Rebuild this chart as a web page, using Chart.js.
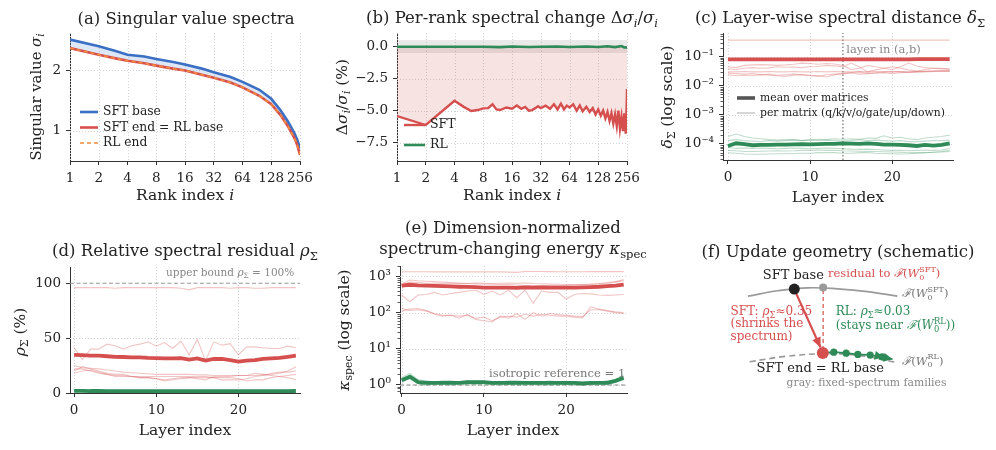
<!DOCTYPE html>
<html><head><meta charset="utf-8">
<script src="https://cdn.jsdelivr.net/npm/chart.js@4.4.1/dist/chart.umd.min.js"></script>
<style>
body{margin:0;background:#fff}
#wrap{position:relative;width:996px;height:450px;overflow:hidden;background:#fff}
canvas{position:absolute}
</style></head><body><div id="wrap">
<canvas id="pa" width="330" height="215" style="left:0;top:0"></canvas>
<canvas id="pb" width="330" height="215" style="left:330px;top:0"></canvas>
<canvas id="pc" width="336" height="215" style="left:660px;top:0"></canvas>
<canvas id="pd" width="330" height="235" style="left:0;top:215px"></canvas>
<canvas id="pe" width="330" height="235" style="left:330px;top:215px"></canvas>
<canvas id="pf" width="336" height="235" style="left:660px;top:215px"></canvas>
</div>
<script>
const SERIF = '"DejaVu Serif", serif'
const RED = '#d64f4f', GREEN = '#2e8b57', BLUE = '#3a6fc4', ORANGE = '#f28c3b', INK = '#222'
const RED_T = 'rgba(214,79,79,0.33)', GREEN_T = 'rgba(46,139,87,0.3)'
const TITLE = 16.5, LABEL = 15.5, TICK = 13.5

// (a) singular value spectra
const aRanks   = [1, 2, 3, 4, 6, 8, 12, 16, 24, 32, 48, 64, 96, 128, 160, 192, 224, 240, 256]
const aSftBase = [2.51, 2.40, 2.32, 2.26, 2.23, 2.19, 2.14, 2.10, 2.03, 1.97, 1.89, 1.81, 1.68, 1.53, 1.34, 1.15, 0.96, 0.85, 0.71]
const aSftEnd  = [2.37, 2.26, 2.20, 2.16, 2.12, 2.08, 2.03, 2.00, 1.93, 1.88, 1.80, 1.72, 1.58, 1.44, 1.26, 1.07, 0.88, 0.76, 0.60]
const aRlEnd   = [2.37, 2.26, 2.20, 2.16, 2.12, 2.08, 2.03, 2.00, 1.93, 1.88, 1.80, 1.72, 1.58, 1.44, 1.26, 1.07, 0.88, 0.76, 0.61]

// (b) per-rank change, %
const bRanks = [1, 2, 4, 5, 6, 7, 8, 9, 10, 11, 12, 14, 16, 18, 20, 22, 24, 26, 28, 30, 32, 36, 40, 44, 48, 52, 56, 60, 64, 70, 76, 82, 88, 96,
  104, 112, 120, 128, 136, 144, 152, 160, 168, 176, 184, 192, 200, 208, 216, 224, 232, 240, 248, 252, 256]
const bSft = [-5.42, -6.12, -4.22, -4.7, -5.02, -4.95, -4.82, -4.8, -4.5, -4.9, -4.95, -4.75, -4.85, -4.6, -4.85, -4.7, -5.0, -4.95, -4.8, -4.65,
  -4.8, -4.6, -4.85, -4.5, -4.9, -4.45, -4.9, -4.6, -4.75, -4.5, -5.0, -4.6, -5.05, -4.7, -5.1, -4.8, -5.3, -4.9, -5.4, -5.0, -5.6, -5.1,
  -5.8, -5.2, -6.0, -5.3, -6.2, -5.0, -6.4, -5.5, -6.6, -5.2, -6.8, -5.6, -3.3]
const bRlRanks = [1, 2, 4, 8, 12, 16, 24, 32, 48, 64, 96, 128, 160, 192, 224, 240, 256]
const bRl = [0, 0, 0, 0, -0.03, 0.01, -0.02, 0, 0.02, -0.02, 0.01, -0.02, 0.03, -0.03, 0.05, -0.06, -0.05]
const bBand = [0.52, -0.5]

const rankTicks = [1, 2, 4, 8, 16, 32, 64, 128, 256]
const rankLabels = ['1', '2', '4', '8', '16', '32', '64', '128', '256']

// layer-wise panels
const layers = [0, 1, 2, 3, 4, 5, 6, 7, 8, 9, 10, 11, 12, 13, 14, 15, 16, 17, 18, 19, 20, 21, 22, 23, 24, 25, 26, 27]

// (c) spectral distance
const cRedMean = [0.080, 0.081, 0.080, 0.080, 0.080, 0.080, 0.080, 0.080, 0.080, 0.080, 0.080, 0.080, 0.080, 0.080, 0.080, 0.080, 0.080, 0.080, 0.080, 0.080, 0.080, 0.080, 0.081, 0.082, 0.082, 0.082, 0.082, 0.082]
const cRedQ = [0.37, 0.37, 0.37, 0.37, 0.37, 0.37, 0.37, 0.37, 0.37, 0.37, 0.37, 0.37, 0.37, 0.37, 0.37, 0.37, 0.37, 0.37, 0.37, 0.37, 0.37, 0.37, 0.37, 0.37, 0.37, 0.37, 0.37, 0.37]
const cRedK = [0.045, 0.042, 0.050, 0.052, 0.053, 0.052, 0.050, 0.052, 0.055, 0.060, 0.058, 0.055, 0.058, 0.056, 0.050, 0.036, 0.040, 0.050, 0.045, 0.040, 0.036, 0.045, 0.060, 0.048, 0.042, 0.040, 0.038, 0.036]
const cRedV = [0.038, 0.036, 0.040, 0.042, 0.040, 0.041, 0.045, 0.043, 0.044, 0.042, 0.045, 0.046, 0.050, 0.048, 0.045, 0.060, 0.045, 0.030, 0.035, 0.040, 0.045, 0.040, 0.035, 0.032, 0.036, 0.040, 0.040, 0.038]
const cRedO = [0.030, 0.030, 0.031, 0.030, 0.030, 0.031, 0.030, 0.030, 0.031, 0.030, 0.030, 0.031, 0.030, 0.031, 0.030, 0.030, 0.031, 0.030, 0.031, 0.030, 0.030, 0.031, 0.030, 0.031, 0.032, 0.032, 0.033, 0.033]
const cRedG = [0.027, 0.026, 0.025, 0.026, 0.024, 0.025, 0.023, 0.024, 0.025, 0.024, 0.023, 0.022, 0.020, 0.024, 0.026, 0.028, 0.025, 0.026, 0.027, 0.028, 0.026, 0.028, 0.029, 0.030, 0.030, 0.031, 0.031, 0.031]
const cRedU = [0.024, 0.022, 0.023, 0.022, 0.024, 0.023, 0.022, 0.021, 0.023, 0.024, 0.022, 0.021, 0.024, 0.025, 0.026, 0.028, 0.030, 0.027, 0.028, 0.030, 0.031, 0.030, 0.029, 0.030, 0.031, 0.032, 0.032, 0.032]
// green values in units of 1e-4
const cGreenMean = [0.85, 1.05, 0.98, 0.9, 0.92, 0.93, 0.95, 0.95, 0.97, 0.98, 0.97, 0.98, 1.0, 1.0, 1.05, 1.02, 1.0, 1.05, 1.0, 0.95, 0.95, 0.92, 0.9, 0.85, 0.92, 0.88, 0.93, 1.05]
const cGreenQ = [1.8, 2.2, 1.8, 1.6, 1.5, 1.4, 1.35, 1.4, 1.4, 1.3, 1.35, 1.45, 1.4, 1.5, 1.45, 1.5, 1.45, 1.6, 1.55, 1.9, 1.6, 1.7, 1.5, 1.4, 1.6, 1.7, 1.8, 2.0]
const cGreenK = [1.3, 1.4, 1.3, 1.25, 1.2, 1.3, 1.25, 1.3, 1.35, 1.3, 1.4, 1.3, 1.35, 1.3, 1.25, 1.3, 1.4, 1.3, 1.35, 1.3, 1.25, 1.3, 1.2, 1.2, 1.25, 1.3, 1.3, 1.35]
const cGreenV = [0.75, 0.7, 0.72, 0.7, 0.72, 0.7, 0.68, 0.7, 0.72, 0.7, 0.68, 0.7, 0.72, 0.7, 0.68, 0.66, 0.65, 0.66, 0.64, 0.62, 0.6, 0.6, 0.58, 0.6, 0.62, 0.6, 0.62, 0.7]
const cGreenO = [0.6, 0.58, 0.55, 0.55, 0.56, 0.57, 0.58, 0.57, 0.58, 0.6, 0.6, 0.62, 0.6, 0.6, 0.58, 0.57, 0.56, 0.55, 0.55, 0.54, 0.53, 0.52, 0.5, 0.5, 0.5, 0.52, 0.55, 0.6]
const cGreenG = [0.5, 0.48, 0.45, 0.44, 0.44, 0.45, 0.46, 0.46, 0.47, 0.48, 0.48, 0.5, 0.5, 0.5, 0.48, 0.48, 0.5, 0.5, 0.48, 0.47, 0.46, 0.45, 0.46, 0.48, 0.5, 0.52, 0.53, 0.55]
const cMarkLayer = 14

// (d) relative residual, %
const dRedMean = [34.8, 34.5, 34, 34, 33.5, 33, 32.8, 32.5, 32.5, 32, 31.8, 31.5, 31.5, 31.8, 30.5, 31.5, 29.5, 31, 31, 30, 28.6, 29.5, 30, 31, 31.5, 32, 33, 34]
const dRed1 = [96, 96, 96, 96, 96, 95.5, 96, 96, 96, 96, 96, 96, 96, 95.5, 94, 96, 96, 96, 96, 95.5, 96, 96, 95.5, 95.5, 96, 96, 96, 96]
const dRed2 = [41.5, 30.5, 40, 40, 44.5, 43, 40, 43, 44.5, 46.6, 42.7, 46, 40.6, 47.3, 34.8, 48.8, 29.5, 46.6, 43.6, 45, 34.8, 42, 42, 41.2, 40.6, 40.6, 42.7, 41.2]
const dRed3 = [25, 23, 22.5, 22, 21, 20, 19, 18.5, 18, 17.5, 17, 17, 17, 17, 17, 16.5, 16.5, 16, 16, 16, 16, 16, 16, 16.5, 17, 18, 20, 24]
const dRed4 = [20, 24, 22, 20, 18, 17, 17, 15, 14, 14, 13, 11, 12, 13, 14, 15, 15, 14, 12, 12, 12, 13, 15, 16, 18, 19, 19, 20]
const dRed5 = [22, 22, 20, 18, 17, 15, 15, 15, 14, 14, 13, 12, 13, 14, 14, 13, 12, 15, 14, 14, 13, 11, 12, 12, 14, 15, 16, 17]
const dRed6 = [18, 20, 21, 19, 17, 16, 16, 15, 15, 15, 15, 15, 15, 15, 15, 14, 14, 14, 15, 15, 16, 16, 18, 17, 16, 15, 14, 12]
const dGreenMean = [2, 2, 1.8, 1.8, 1.7, 1.7, 1.7, 1.6, 1.6, 1.6, 1.6, 1.6, 1.6, 1.6, 1.6, 1.6, 1.6, 1.6, 1.6, 1.6, 1.6, 1.6, 1.6, 1.7, 1.7, 1.7, 1.7, 1.8]
const dBound = 100

// (e) kappa_spec
const eRedMean = [555, 590, 570, 560, 550, 540, 530, 520, 515, 505, 490, 490, 495, 495, 485, 500, 495, 500, 495, 490, 490, 490, 500, 510, 520, 540, 560, 600]
const eRed1 = [1350, 1350, 1350, 1350, 1340, 1340, 1340, 1340, 1340, 1340, 1340, 1340, 1340, 1320, 1300, 1380, 1380, 1370, 1360, 1350, 1350, 1350, 1350, 1360, 1360, 1360, 1360, 1360]
const eRed2 = [620, 800, 760, 740, 720, 700, 680, 660, 640, 620, 620, 610, 600, 600, 580, 560, 560, 560, 570, 560, 560, 580, 600, 620, 640, 680, 720, 820]
const eRed3 = [580, 700, 680, 650, 650, 640, 650, 640, 640, 660, 650, 640, 650, 660, 650, 660, 640, 630, 620, 610, 600, 600, 590, 600, 620, 640, 700, 760]
const eRed4 = [308, 200, 308, 318, 363, 308, 340, 363, 395, 421, 318, 395, 308, 421, 259, 421, 181, 395, 363, 363, 238, 318, 340, 330, 308, 300, 308, 318]
const eRed5 = [130, 115, 120, 110, 95, 85, 85, 80, 85, 70, 75, 60, 75, 80, 75, 90, 80, 90, 85, 80, 80, 75, 72, 145, 125, 115, 105, 100]
const eRed6 = [110, 125, 130, 115, 90, 80, 85, 70, 90, 65, 60, 55, 80, 70, 95, 65, 100, 80, 95, 88, 85, 80, 78, 120, 120, 110, 100, 95]
const eGreenMean = [1.36, 1.7, 1.2, 1.15, 1.15, 1.15, 1.15, 1.15, 1.2, 1.2, 1.2, 1.15, 1.15, 1.15, 1.15, 1.15, 1.15, 1.15, 1.15, 1.15, 1.15, 1.15, 1.1, 1.15, 1.15, 1.15, 1.3, 1.58]
const eGreen1 = [1.6, 2.1, 1.4, 1.3, 1.2, 1.3, 1.3, 1.2, 1.3, 1.3, 1.25, 1.2, 1.2, 1.3, 1.3, 1.25, 1.2, 1.2, 1.3, 1.2, 1.0, 1.2, 1.2, 1.2, 1.2, 1.3, 1.4, 1.9]
const eGreen2 = [1.2, 1.5, 1.1, 1.0, 1.05, 1.05, 1.0, 1.1, 1.0, 1.05, 1.0, 1.05, 1.0, 1.05, 1.0, 1.0, 1.05, 1.0, 1.0, 1.0, 1.05, 1.0, 1.0, 1.05, 1.0, 1.05, 1.2, 1.4]
const eIso = 1

// (f) schematic, abstract coordinates
const fTopArcX = [2.53, 3.45, 4.38, 5.30, 6.22, 7.14]
const fTopArcY = [7.08, 7.34, 7.48, 7.43, 7.30, 7.08]
const fLowArcX = [2.58, 3.72, 4.85, 5.95, 7.08]
const fLowArcY = [3.94, 4.20, 4.32, 4.25, 3.92]
const fSftBase = [3.96, 7.42]
const fProj = [4.85, 7.50]
const fSftEnd = [4.84, 4.36]
const fSftArrowX = [4.02, 4.77], fSftArrowY = [7.20, 4.62]
const fResidX = [4.85, 4.85], fResidY = [7.38, 4.62]
const fRlX = [4.84, 5.18, 5.56, 5.92, 6.30, 6.67, 6.99]
const fRlY = [4.36, 4.40, 4.35, 4.29, 4.26, 4.17, 4.06]

// ---------- helpers ----------
const I = t => ({ t, st: 'i' })
const SB = t => ({ t, st: 'sub' })
const SBI = t => ({ t, st: 'subi' })
const SS = (t, u) => ({ t, u, st: 'ss' })

function partFont (st, size) {
  const small = st === 'sub' || st === 'subi' || st === 'sup' || st === 'ss'
  const it = (st === 'i' || st === 'subi') ? 'italic ' : ''
  return it + (small ? size * 0.7 : size) + 'px ' + SERIF
}

function drawRich (ctx, parts, x, y, size, color, align) {
  parts = parts.map(p => typeof p === 'string' ? { t: p, st: 'n' } : p)
  ctx.save()
  ctx.fillStyle = color; ctx.textBaseline = 'middle'; ctx.textAlign = 'left'
  const ws = parts.map(p => {
    ctx.font = partFont(p.st, size)
    if (p.st === 'ss') return Math.max(ctx.measureText(p.t).width, ctx.measureText(p.u).width)
    return ctx.measureText(p.t).width
  })
  const total = ws.reduce((a, b) => a + b, 0)
  let cx = align === 'center' ? x - total / 2 : align === 'right' ? x - total : x
  parts.forEach((p, k) => {
    ctx.font = partFont(p.st, size)
    if (p.st === 'ss') { ctx.fillText(p.t, cx, y + size * 0.3); ctx.fillText(p.u, cx, y - size * 0.38) }
    else if (p.st === 'sub' || p.st === 'subi') ctx.fillText(p.t, cx, y + size * 0.3)
    else ctx.fillText(p.t, cx, y)
    cx += ws[k]
  })
  ctx.restore()
}

const xy = (xs, ys, k = 1) => xs.map((x, i) => ({ x, y: ys[i] * k }))

function line (xs, ys, color, width, extra) {
  return Object.assign({ data: xy(xs, ys), borderColor: color, borderWidth: width, pointRadius: 0, fill: false, tension: 0, order: 1 }, extra || {})
}

const fitW = w => s => { s.width = w }
const fitH = h => s => { s.height = h }

function axis (type, min, max, vals, labels, fit) {
  return {
    type, min, max,
    afterBuildTicks: s => { s.ticks = vals.map(v => ({ value: v })) },
    afterFit: fit,
    grid: { drawOnChartArea: false, drawTicks: true, tickLength: 4, color: '#333', lineWidth: 1 },
    border: { display: true, color: '#333', width: 1 },
    ticks: { font: { family: SERIF, size: TICK }, color: INK, padding: 5, maxRotation: 0, autoSkip: false, callback: (v, i) => labels[i] }
  }
}

// titles, labels, dotted grid, legends, arrows
function deco (cfg) {
  return {
    id: 'deco',
    beforeDatasetsDraw (chart) {
      const { ctx, chartArea: a, scales } = chart
      ctx.save(); ctx.strokeStyle = '#cfcfcf'; ctx.lineWidth = 0.9; ctx.setLineDash([1, 2])
      ;(cfg.gx || []).forEach(v => {
        const px = Math.round(scales.x.getPixelForValue(v)) + 0.5
        ctx.beginPath(); ctx.moveTo(px, a.top); ctx.lineTo(px, a.bottom); ctx.stroke()
      })
      ;(cfg.gy || []).forEach(v => {
        const py = Math.round(scales.y.getPixelForValue(v)) + 0.5
        ctx.beginPath(); ctx.moveTo(a.left, py); ctx.lineTo(a.right, py); ctx.stroke()
      })
      ctx.restore()
    },
    afterDraw (chart) {
      const { ctx, chartArea: a, scales } = chart
      if (cfg.minorY) {
        ctx.save(); ctx.strokeStyle = '#333'; ctx.lineWidth = 0.8
        cfg.minorY.forEach(v => {
          const py = Math.round(scales.y.getPixelForValue(v)) + 0.5
          if (py < a.top || py > a.bottom) return
          ctx.beginPath(); ctx.moveTo(a.left - 2.5, py); ctx.lineTo(a.left, py); ctx.stroke()
        })
        ctx.restore()
      }
      ;(cfg.arrows || []).forEach(ar => {
        const pts = chart.getDatasetMeta(ar.ds).data
        const p = pts[pts.length - 1], q = pts[pts.length - 2]
        const ang = Math.atan2(p.y - q.y, p.x - q.x)
        ;(ar.double ? [0, ar.len] : [0]).forEach(off => {
          ctx.save(); ctx.translate(p.x, p.y); ctx.rotate(ang); ctx.fillStyle = ar.color
          ctx.beginPath(); ctx.moveTo(-off, 0); ctx.lineTo(-off - ar.len, ar.half); ctx.lineTo(-off - ar.len, -ar.half); ctx.closePath(); ctx.fill()
          ctx.restore()
        })
      })
      ;(cfg.legend || []).forEach(l => {
        const y = l.y - cfg.oy, x1 = l.x1 - cfg.ox, x2 = l.x2 - cfg.ox
        ctx.save(); ctx.strokeStyle = l.color; ctx.lineWidth = l.w; ctx.setLineDash(l.dash || [])
        ctx.beginPath(); ctx.moveTo(x1, y); ctx.lineTo(x2, y); ctx.stroke(); ctx.restore()
        drawRich(ctx, [l.text], x2 + 5, y, l.size, INK, 'left')
      })
      ;(cfg.text || []).forEach(t => {
        let x = t.x, y = t.y
        if (t.data) { x = scales.x.getPixelForValue(t.x); y = scales.y.getPixelForValue(t.y) } else { x -= cfg.ox; y -= cfg.oy }
        ctx.save()
        if (t.rot) { ctx.translate(x, y); ctx.rotate(-Math.PI / 2); x = 0; y = 0 }
        drawRich(ctx, t.p, x, y, t.size || LABEL, t.color || INK, t.align || 'center')
        ctx.restore()
      })
    }
  }
}

function makePanel (id, ox, oy, cfg) {
  return new Chart(document.getElementById(id), {
    type: cfg.type || 'line',
    data: { datasets: cfg.datasets },
    options: {
      responsive: false, animation: false, events: [],
      layout: { padding: cfg.pad },
      plugins: { legend: { display: false }, tooltip: { enabled: false }, title: { display: false } },
      scales: cfg.scales
    },
    plugins: [deco(Object.assign({ ox, oy }, cfg.deco))]
  })
}

function logMinors (lo, hi) {
  const out = []
  for (let e = lo; e <= hi; e++) for (let m = 2; m <= 9; m++) out.push(m * Math.pow(10, e))
  return out
}

// ---------- (a) ----------
makePanel('pa', 0, 0, {
  pad: { top: 33, right: 30, left: 0, bottom: 0 },
  datasets: [
    line(aRanks, aSftBase, BLUE, 2.6, { fill: '+1', backgroundColor: 'rgba(58,111,196,0.17)', order: 3 }),
    line(aRanks, aSftEnd, RED, 2.6, { order: 2 }),
    line(aRanks, aRlEnd, ORANGE, 1.6, { borderDash: [4, 3], order: 1 })
  ],
  scales: {
    x: axis('logarithmic', 1, 256, rankTicks, rankLabels, fitH(54)),
    y: axis('linear', 0.5, 2.62, [1, 2], ['1', '2'], fitW(70))
  },
  deco: {
    gx: rankTicks, gy: [1, 2],
    legend: [
      { x1: 80, x2: 98, y: 112, color: BLUE, w: 2.6, text: 'SFT base', size: 12.3 },
      { x1: 80, x2: 98, y: 127.5, color: RED, w: 2.6, text: 'SFT end = RL base', size: 12.3 },
      { x1: 80, x2: 98, y: 143, color: ORANGE, w: 1.6, dash: [4, 3], text: 'RL end', size: 12.3 }
    ],
    text: [
      { p: ['(a) Singular value spectra'], x: 186, y: 20, size: TITLE },
      { p: ['Rank index ', I('i')], x: 185, y: 196 },
      { p: ['Singular value ', I('σ'), SBI('i')], x: 37, y: 97, rot: true, size: 14.8 }
    ]
  }
})

// ---------- (b) ----------
makePanel('pb', 330, 0, {
  pad: { top: 33, right: 33, left: 0, bottom: 0 },
  datasets: [
    line([1, 256], [bBand[0], bBand[0]], 'rgba(0,0,0,0)', 0, { fill: '+1', backgroundColor: 'rgba(120,120,120,0.16)', order: 4 }),
    line([1, 256], [bBand[1], bBand[1]], 'rgba(0,0,0,0)', 0, { order: 5 }),
    line(bRanks, bSft, RED, 2.4, { fill: { value: 0 }, backgroundColor: 'rgba(214,79,79,0.16)', order: 2 }),
    line(bRlRanks, bRl, GREEN, 2.6, { order: 1 })
  ],
  scales: {
    x: axis('logarithmic', 1, 256, rankTicks, rankLabels, fitH(54)),
    y: axis('linear', -8.93, 1.07, [0, -2.5, -5, -7.5], ['0.0', '−2.5', '−5.0', '−7.5'], fitW(67))
  },
  deco: {
    gx: rankTicks, gy: [0, -2.5, -5, -7.5],
    legend: [
      { x1: 404, x2: 425, y: 125, color: RED, w: 2.4, text: 'SFT', size: 12.5 },
      { x1: 404, x2: 425, y: 145, color: GREEN, w: 2.6, text: 'RL', size: 12.5 }
    ],
    text: [
      { p: ['(b) Per-rank spectral change ', 'Δ', I('σ'), SBI('i'), '/', I('σ'), SBI('i')], x: 512, y: 19, size: TITLE },
      { p: ['Rank index ', I('i')], x: 512, y: 196 },
      { p: ['Δ', I('σ'), SBI('i'), '/', I('σ'), SBI('i'), ' (%)'], x: 343, y: 97, rot: true }
    ]
  }
})

// ---------- (c) ----------
const E4 = 1e-4
makePanel('pc', 660, 0, {
  pad: { top: 33, right: 43, left: 0, bottom: 0 },
  datasets: [
    line(layers, cRedQ, RED_T, 1.1), line(layers, cRedK, RED_T, 1.1), line(layers, cRedV, RED_T, 1.1),
    line(layers, cRedO, RED_T, 1.1), line(layers, cRedG, RED_T, 1.1), line(layers, cRedU, RED_T, 1.1),
    { data: xy(layers, cGreenQ, E4), borderColor: GREEN_T, borderWidth: 1.1, pointRadius: 0, order: 1 },
    { data: xy(layers, cGreenK, E4), borderColor: GREEN_T, borderWidth: 1.1, pointRadius: 0, order: 1 },
    { data: xy(layers, cGreenV, E4), borderColor: GREEN_T, borderWidth: 1.1, pointRadius: 0, order: 1 },
    { data: xy(layers, cGreenO, E4), borderColor: GREEN_T, borderWidth: 1.1, pointRadius: 0, order: 1 },
    { data: xy(layers, cGreenG, E4), borderColor: GREEN_T, borderWidth: 1.1, pointRadius: 0, order: 1 },
    line(layers, cRedMean, RED, 3.8, { order: 0 }),
    { data: xy(layers, cGreenMean, E4), borderColor: GREEN, borderWidth: 3.8, pointRadius: 0, order: 0 },
    line([cMarkLayer, cMarkLayer], [2.8e-5, 0.65], '#555', 1, { borderDash: [1.5, 2], order: 2 })
  ],
  scales: {
    x: axis('linear', -0.6, 27.4, [0, 10, 20], ['0', '10', '20'], fitH(55)),
    y: axis('logarithmic', 2.8e-5, 0.65, [1e-4, 1e-3, 1e-2, 1e-1], ['10⁻⁴', '10⁻³', '10⁻²', '10⁻¹'], fitW(63))
  },
  deco: {
    gx: [0, 10, 20], gy: [1e-4, 1e-3, 1e-2, 1e-1], minorY: logMinors(-5, -1),
    legend: [
      { x1: 737, x2: 755, y: 98, color: '#555', w: 3.6, text: 'mean over matrices', size: 10.8 },
      { x1: 737, x2: 755, y: 113, color: '#b5b5b5', w: 1.1, text: 'per matrix (q/k/v/o/gate/up/down)', size: 10.8 }
    ],
    text: [
      { p: ['layer in (a,b)'], x: 14.4, y: 0.17, data: true, size: 11.5, color: '#888', align: 'left' },
      { p: ['(c) Layer-wise spectral distance ', I('δ'), SB('Σ')], x: 840, y: 19, size: TITLE },
      { p: ['Layer index'], x: 838, y: 198 },
      { p: [I('δ'), SB('Σ'), ' (log scale)'], x: 668, y: 97, rot: true }
    ]
  }
})

// ---------- (d) ----------
makePanel('pd', 0, 215, {
  pad: { top: 52, right: 30, left: 0, bottom: 0 },
  datasets: [
    line(layers, dRed1, RED_T, 1.1), line(layers, dRed2, RED_T, 1.1), line(layers, dRed3, RED_T, 1.1),
    line(layers, dRed4, RED_T, 1.1), line(layers, dRed5, RED_T, 1.1), line(layers, dRed6, RED_T, 1.1),
    line(layers, dRedMean, RED, 3.8, { order: 0 }),
    line(layers, dGreenMean, GREEN, 3.8, { order: 0 }),
    line([-0.5, 27.5], [dBound, dBound], '#999', 1.1, { borderDash: [4, 2.5], order: 2 })
  ],
  scales: {
    x: axis('linear', -0.5, 27.5, [0, 10, 20], ['0', '10', '20'], fitH(57)),
    y: axis('linear', 0, 114.8, [0, 50, 100], ['0', '50', '100'], fitW(70))
  },
  deco: {
    gx: [0, 10, 20], gy: [50],
    text: [
      { p: ['upper bound ', I('ρ'), SB('Σ'), ' = 100%'], x: 26.8, y: 109, data: true, size: 10.5, color: '#888', align: 'right' },
      { p: ['(d) Relative spectral residual ', I('ρ'), SB('Σ')], x: 185, y: 252, size: TITLE },
      { p: ['Layer index'], x: 185, y: 431 },
      { p: [I('ρ'), SB('Σ'), ' (%)'], x: 21, y: 332, rot: true }
    ]
  }
})

// ---------- (e) ----------
makePanel('pe', 330, 215, {
  pad: { top: 51, right: 33, left: 0, bottom: 0 },
  datasets: [
    line(layers, eRed1, RED_T, 1.1), line(layers, eRed2, RED_T, 1.1), line(layers, eRed3, RED_T, 1.1),
    line(layers, eRed4, RED_T, 1.1), line(layers, eRed5, RED_T, 1.1), line(layers, eRed6, RED_T, 1.1),
    line(layers, eGreen1, GREEN_T, 1.1), line(layers, eGreen2, GREEN_T, 1.1),
    line(layers, eRedMean, RED, 3.8, { order: 0 }),
    line(layers, eGreenMean, GREEN, 3.8, { order: 0 }),
    line([-0.2, 27.4], [eIso, eIso], '#888', 1.1, { borderDash: [4, 2.5], order: 2 })
  ],
  scales: {
    x: axis('linear', -0.2, 27.4, [0, 10, 20], ['0', '10', '20'], fitH(57)),
    y: axis('logarithmic', 0.63, 1950, [1, 10, 100, 1000], ['10⁰', '10¹', '10²', '10³'], fitW(70))
  },
  deco: {
    gx: [0, 10, 20], gy: [1, 10, 100, 1000], minorY: logMinors(-1, 3),
    text: [
      { p: ['isotropic reference = 1'], x: 27.2, y: 1.96, data: true, size: 11.6, color: '#777', align: 'right' },
      { p: ['(e) Dimension-normalized'], x: 513, y: 229, size: TITLE },
      { p: ['spectrum-changing energy ', I('κ'), SB('spec')], x: 513, y: 250, size: TITLE },
      { p: ['Layer index'], x: 513, y: 431 },
      { p: [I('κ'), SB('spec'), ' (log scale)'], x: 345, y: 330, rot: true }
    ]
  }
})

// ---------- (f) schematic ----------
const dot = (p, color, r) => ({ data: [{ x: p[0], y: p[1] }], pointRadius: r, pointBackgroundColor: color, pointBorderWidth: 0, showLine: false, order: 0 })
makePanel('pf', 660, 215, {
  type: 'scatter',
  pad: 0,
  datasets: [
    line(fTopArcX, fTopArcY, '#9a9a9a', 1.7, { showLine: true, tension: 0.4, order: 3 }),
    line(fLowArcX, fLowArcY, '#9a9a9a', 1.7, { showLine: true, tension: 0.4, borderDash: [6, 4], order: 3 }),
    line(fResidX, fResidY, RED, 1.2, { showLine: true, borderDash: [4, 3], order: 2 }),
    line(fSftArrowX, fSftArrowY, RED, 2.2, { showLine: true, order: 2 }),
    line(fRlX, fRlY, GREEN, 1.8, { showLine: true, tension: 0.3, pointRadius: [0, 3.6, 3.6, 3.6, 3.6, 3.6, 0], pointBackgroundColor: GREEN, pointBorderWidth: 0, order: 1 }),
    dot(fSftBase, '#222', 5.5),
    dot(fProj, '#999', 4),
    dot(fSftEnd, RED, 6)
  ],
  scales: {
    x: { type: 'linear', display: false, min: 0, max: 10 },
    y: { type: 'linear', display: false, min: 0, max: 10.68 }
  },
  deco: {
    arrows: [{ ds: 3, color: RED, len: 10, half: 4.5 }, { ds: 4, color: GREEN, len: 9, half: 4.5, double: true }],
    text: [
      { p: ['(f) Update geometry (schematic)'], x: 838, y: 253, size: TITLE },
      { p: ['SFT base'], x: 3.93, y: 8.05, data: true, size: 13, color: INK },
      { p: ['residual to ', I('ℱ'), '(', I('W'), SS('0', 'SFT'), ')'], x: 5.0, y: 8.14, data: true, size: 11.5, color: RED, align: 'left' },
      { p: [I('ℱ'), '(', I('W'), SS('0', 'SFT'), ')'], x: 7.29, y: 7.18, data: true, size: 11.5, color: '#777', align: 'left' },
      { p: ['SFT: ', I('ρ'), SB('Σ'), '≈0.35'], x: 1.99, y: 6.32, data: true, size: 12, color: RED, align: 'left' },
      { p: ['(shrinks the'], x: 1.99, y: 5.73, data: true, size: 12, color: RED, align: 'left' },
      { p: ['spectrum)'], x: 1.99, y: 5.14, data: true, size: 12, color: RED, align: 'left' },
      { p: ['RL: ', I('ρ'), SB('Σ'), '≈0.03'], x: 5.24, y: 6.32, data: true, size: 12, color: GREEN, align: 'left' },
      { p: ['(stays near ', I('ℱ'), '(', I('W'), SS('0', 'RL'), '))'], x: 5.24, y: 5.64, data: true, size: 12, color: GREEN, align: 'left' },
      { p: [I('ℱ'), '(', I('W'), SS('0', 'RL'), ')'], x: 7.29, y: 3.95, data: true, size: 11.5, color: '#777', align: 'left' },
      { p: ['SFT end = RL base'], x: 4.76, y: 3.59, data: true, size: 13, color: INK },
      { p: ['gray: fixed-spectrum families'], x: 6.19, y: 2.91, data: true, size: 10.8, color: '#888' }
    ]
  }
})
</script></body></html>
